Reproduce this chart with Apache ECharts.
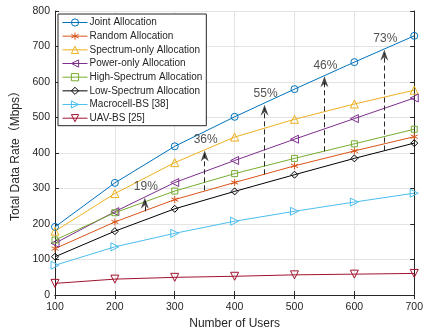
<!DOCTYPE html>
<html><head><meta charset="utf-8">
<script src="https://cdn.jsdelivr.net/npm/echarts@6/dist/echarts.min.js"></script>
<style>html,body{margin:0;padding:0;background:#fff}#c{width:426px;height:335px}</style>
</head><body><div id="c"></div>
<script>
const users = [100, 200, 300, 400, 500, 600, 700];
const joint    = [192, 316, 419, 502, 580, 656, 730];
const randomA  = [131, 206, 269, 317, 364, 406, 446];
const spectrum = [180, 286, 373, 445, 495, 538, 577];
const power    = [146, 235, 317, 379, 439, 497, 555];
const high     = [155, 232, 293, 342, 385, 426, 467];
const low      = [108, 180, 243, 292, 339, 385, 428];
const macro    = [84, 136, 174, 208, 236, 262, 287];
const uav      = [33, 45, 50, 53, 57, 59, 61];
const seriesNames = ['Joint Allocation','Random Allocation','Spectrum-only Allocation','Power-only Allocation','High-Spectrum Allocation','Low-Spectrum Allocation','Macrocell-BS [38]','UAV-BS [25]'];
const annX    = [250, 350, 450, 550, 650];
const annFrom = [236, 295, 340, 405, 407];
const annTo   = [274, 407, 536, 616, 691];
const annText = ['19%', '36%', '55%', '46%', '73%'];
const xTicks = [100, 700, 100];
const yTicks = [0, 800, 100];

const colors = ['#0072BD','#D95319','#EDB120','#7E2F8E','#77AC30','#000000','#4DBEEE','#A2142F'];
const symbols = [
  'circle',
  'path://M0,-5L0,5M-4.3,-2.5L4.3,2.5M-4.3,2.5L4.3,-2.5',
  'path://M5,0L10,9L0,9Z',
  'path://M0,5L9,0L9,10Z',
  'rect',
  'diamond',
  'path://M0,0L9,5L0,10Z',
  'path://M0,0L10,0L5,9Z'
];
const sizes = [7,7,8,8,6,7,8,8];
const allData = [joint, randomA, spectrum, power, high, low, macro, uav];

const series = allData.map((d, i) => ({
  name: seriesNames[i],
  type: 'line',
  data: users.map((u, k) => [u, d[k]]),
  symbol: symbols[i],
  symbolSize: sizes[i],
  showAllSymbol: true,
  lineStyle: {color: colors[i], width: 1},
  itemStyle: {color: 'rgba(255,255,255,0)', borderColor: colors[i], borderWidth: 1},
  emphasis: {disabled: true},
  z: 3
}));

series.push({
  name: 'arrows',
  type: 'line',
  data: [],
  silent: true,
  markLine: {
    silent: true,
    symbol: ['none', 'none'],
    lineStyle: {color: '#262626', type: [5, 3], width: 1},
    label: {show: false},
    emphasis: {disabled: true},
    data: annX.map((x, i) => [{coord: [x, annFrom[i]]}, {coord: [x, annTo[i] - 10]}])
  },
  z: 4
});
series.push({
  name: 'heads',
  type: 'scatter',
  data: annX.map((x, i) => [x, annTo[i]]),
  symbol: 'path://M5,0L10,12L5,8L0,12Z',
  symbolSize: [8, 11],
  symbolOffset: [0, 5.5],
  itemStyle: {color: '#1a1a1a'},
  silent: true,
  label: {
    show: true, position: 'top', distance: 3, offset: [1, -2],
    formatter: p => annText[p.dataIndex],
    fontFamily: 'Liberation Sans', fontSize: 12, color: '#262626'
  },
  z: 5
});

const axisCommon = {
  axisLine: {show: true, lineStyle: {color: '#262626', width: 1}},
  axisTick: {show: true, inside: true, length: 4, lineStyle: {color: '#262626'}},
};

const chart = echarts.init(document.getElementById('c'), null, {renderer: 'canvas'});
chart.setOption({
  animation: false,
  backgroundColor: '#fff',
  grid: {left: 55, right: 9, top: 11, bottom: 39, containLabel: false},
  legend: {
    data: seriesNames,
    orient: 'vertical',
    left: 58, top: 14,
    itemWidth: 25, itemHeight: 9, itemGap: 3.67,
    padding: [3.5, 4, 2.5, 4],
    backgroundColor: '#fff',
    borderColor: '#262626', borderWidth: 1,
    itemStyle: {borderWidth: 1},
    lineStyle: {width: 1},
    textStyle: {fontFamily: 'Liberation Sans', fontSize: 10, lineHeight: 10, color: '#262626', padding: [0,0,0,-3]},
    selectedMode: false
  },
  xAxis: [{
    type: 'value', min: xTicks[0], max: xTicks[1], interval: xTicks[2],
    name: 'Number of Users', nameLocation: 'middle', nameGap: 21,
    nameTextStyle: {fontFamily: 'Liberation Sans', fontSize: 12, color: '#262626'},
    axisLabel: {fontFamily: 'Liberation Sans', fontSize: 10.5, color: '#262626', margin: 7},
    splitLine: {show: true, lineStyle: {color: '#e3e3e3'}},
    ...axisCommon
  }, {
    type: 'value', position: 'top', min: xTicks[0], max: xTicks[1], interval: xTicks[2],
    axisLabel: {show: false}, splitLine: {show: false},
    ...axisCommon
  }],
  yAxis: [{
    type: 'value', min: yTicks[0], max: yTicks[1], interval: yTicks[2],
    name: 'Total Data Rate（Mbps）', nameLocation: 'middle', nameGap: 27,
    nameTextStyle: {fontFamily: 'Liberation Sans, Noto Sans CJK SC', fontSize: 12, color: '#262626'},
    axisLabel: {fontFamily: 'Liberation Sans', fontSize: 10.5, color: '#262626', margin: 5},
    splitLine: {show: true, lineStyle: {color: '#e3e3e3'}},
    ...axisCommon
  }, {
    type: 'value', position: 'right', min: yTicks[0], max: yTicks[1], interval: yTicks[2],
    axisLabel: {show: false}, splitLine: {show: false},
    ...axisCommon
  }],
  series: series
});
</script></body></html>
